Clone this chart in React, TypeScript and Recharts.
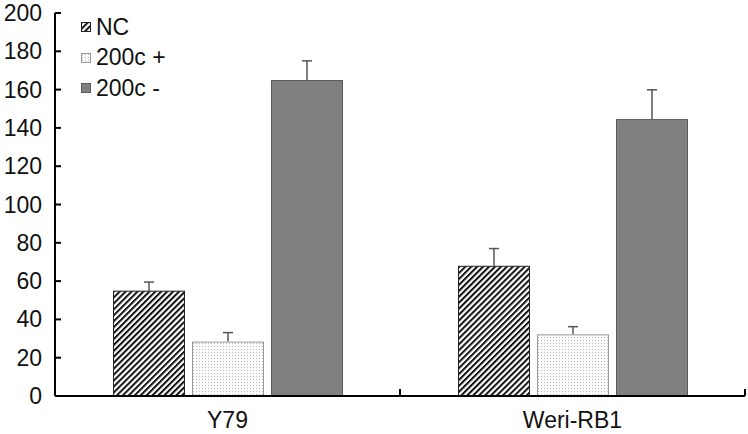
import React from 'react';
import { BarChart, Bar, XAxis, YAxis, Legend } from 'recharts';

const categories = ['Y79', 'Weri-RB1'];
const ncValues = [55, 68];
const ncErrors = [4.5, 9];
const plusValues = [28.4, 32.2];
const plusErrors = [4.7, 4];
const minusValues = [165, 144.6];
const minusErrors = [10, 15.3];
const yTicks = [0, 20, 40, 60, 80, 100, 120, 140, 160, 180, 200];

const data = categories.map((name, i) => ({
  name,
  nc: ncValues[i],
  ncErr: ncErrors[i],
  plus: plusValues[i],
  plusErr: plusErrors[i],
  minus: minusValues[i],
  minusErr: minusErrors[i],
}));

const W = 748;
const H = 434;
const Y_AXIS_W = 55;
const MARGIN = { top: 13, right: 3, left: 0, bottom: 0 };
const PLOT_W = W - Y_AXIS_W - MARGIN.left - MARGIN.right;
const BAND = PLOT_W / categories.length;
const FONT = '"Liberation Sans", Arial, sans-serif';
const FS = 23;

const series = [
  { key: 'nc', label: 'NC', fill: 'url(#hatch)', stroke: '#222' },
  { key: 'plus', label: '200c +', fill: 'url(#dots)', stroke: '#999' },
  { key: 'minus', label: '200c -', fill: '#808080', stroke: '#5a5a5a' },
];

// bar rect plus an upward-only error whisker, scaled from the bar's own pixel height
const makeShape = (errKey: string, stroke: string) => (props: any) => {
  const { x, y, width, height, fill, payload, value } = props;
  const v = Array.isArray(value) ? value[1] - value[0] : value;
  const pxPerUnit = v ? height / v : 0;
  const errPx = (payload[errKey] || 0) * pxPerUnit;
  const cx = x + width / 2;
  return (
    <g>
      <line x1={cx} x2={cx} y1={y} y2={y - errPx} stroke="#555" strokeWidth={1.5} />
      <line x1={cx - 5} x2={cx + 5} y1={y - errPx} y2={y - errPx} stroke="#555" strokeWidth={1.5} />
      <rect x={x + 0.5} y={y + 0.5} width={width - 1} height={height - 1} fill={fill} stroke={stroke} strokeWidth={1} />
    </g>
  );
};

const YTick = (props: any) => {
  const { x, y, payload } = props;
  return (
    <g>
      <line x1={Y_AXIS_W} x2={Y_AXIS_W + 6} y1={y} y2={y} stroke="#000" strokeWidth={2} />
      <text x={x - 13} y={y} dy={8} textAnchor="end" fontSize={FS} fontFamily={FONT} fill="#111">
        {payload.value}
      </text>
    </g>
  );
};

const XTick = (props: any) => {
  const { x, y, payload } = props;
  const bx = x + BAND / 2;
  return (
    <g>
      <line x1={bx} x2={bx} y1={y} y2={y - 7} stroke="#000" strokeWidth={2} />
      <text x={x} y={y + 32} textAnchor="middle" fontSize={FS} fontFamily={FONT} fill="#111">
        {payload.value}
      </text>
    </g>
  );
};

const LegendContent = () => (
  <div style={{ fontFamily: FONT, fontSize: FS, color: '#111' }}>
    {series.map((s) => (
      <div key={s.key} style={{ display: 'flex', alignItems: 'center', height: 30.5 }}>
        <svg width={10} height={10} style={{ marginRight: 5 }}>
          <rect x={0.5} y={0.5} width={9} height={9} fill={s.fill} stroke={s.stroke} strokeWidth={1} />
        </svg>
        <span>{s.label}</span>
      </div>
    ))}
  </div>
);

export default function App() {
  return (
    <div style={{ position: 'absolute', left: 0, top: 0, width: W, height: H, background: '#fff' }}>
      <svg width={0} height={0} style={{ position: 'absolute' }}>
        <defs>
          <pattern id="hatch" patternUnits="userSpaceOnUse" width={4.2} height={4.2} patternTransform="rotate(45)">
            <rect x={0} y={0} width={4.2} height={4.2} fill="#fff" />
            <rect x={0} y={0} width={2} height={4.2} fill="#111" />
          </pattern>
          <pattern id="dots" patternUnits="userSpaceOnUse" width={3} height={3}>
            <rect x={0} y={0} width={3} height={3} fill="#fbfbfb" />
            <rect x={1} y={1} width={1} height={1} fill="#b8b8b8" />
          </pattern>
        </defs>
      </svg>
      <BarChart
        width={W}
        height={H}
        data={data}
        margin={MARGIN}
        barCategoryGap={57}
        barGap={7}
      >
        <XAxis
          dataKey="name"
          axisLine={{ stroke: '#000', strokeWidth: 2 }}
          tickLine={false}
          tickSize={0}
          tickMargin={0}
          height={38}
          tick={<XTick />}
          interval={0}
        />
        <YAxis
          domain={[0, 200]}
          ticks={yTicks}
          width={Y_AXIS_W}
          axisLine={{ stroke: '#000', strokeWidth: 2 }}
          tickLine={false}
          tickSize={0}
          tickMargin={0}
          tick={<YTick />}
          interval={0}
        />
        <Legend
          layout="vertical"
          align="center"
          verticalAlign="middle"
          wrapperStyle={{ left: 81, top: 12, width: 160 }}
          content={<LegendContent />}
        />
        {series.map((s) => (
          <Bar
            key={s.key}
            dataKey={s.key}
            name={s.label}
            fill={s.fill}
            stroke={s.stroke}
            barSize={72}
            isAnimationActive={false}
            shape={makeShape(`${s.key}Err`, s.stroke)}
          />
        ))}
      </BarChart>
    </div>
  );
}
